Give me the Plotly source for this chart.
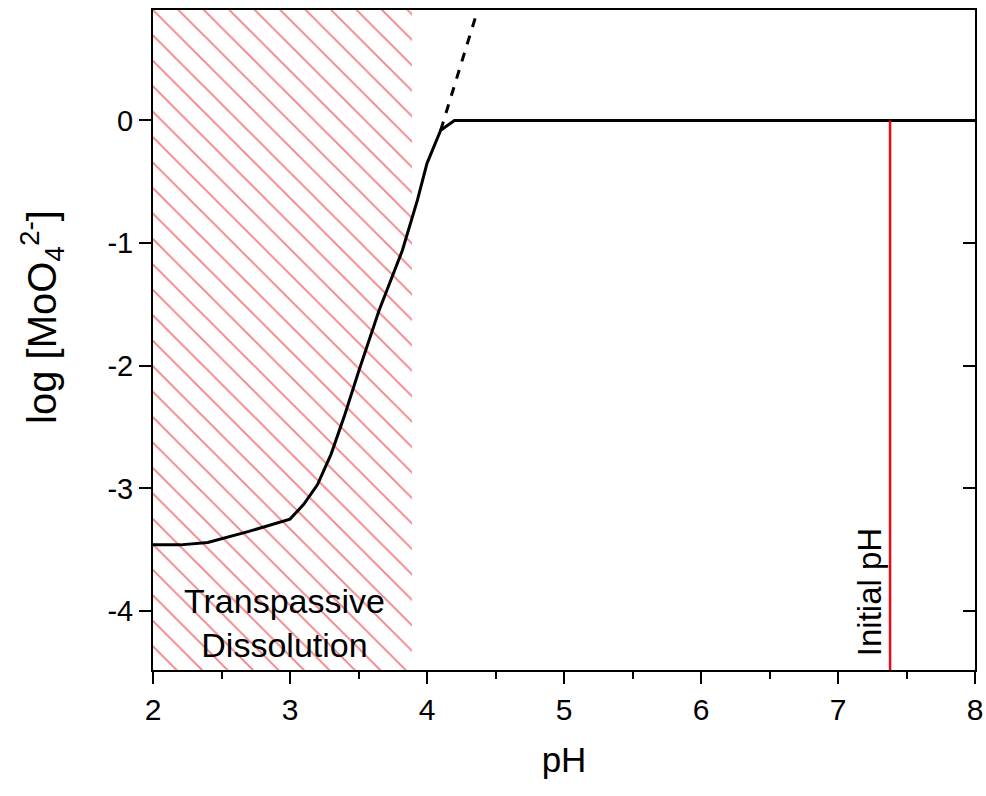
import plotly.graph_objects as go

# Data
ph_curve = [2.0, 2.2, 2.4, 2.7, 3.0, 3.1, 3.2, 3.3, 3.4, 3.5, 3.65, 3.82, 3.93, 4.0, 4.1, 4.2, 8.0]
log_moo4 = [-3.46, -3.46, -3.44, -3.35, -3.25, -3.13, -2.97, -2.72, -2.40, -2.05, -1.55, -1.06, -0.65, -0.35, -0.08, 0.0, 0.0]
ph_dashed = [4.1, 4.37]
log_dashed = [-0.08, 0.9]
region_x = [2.0, 3.89, 3.89, 2.0, 2.0]
region_y = [-4.5, -4.5, 0.9, 0.9, -4.5]
initial_ph = 7.38
initial_line_y = [-4.5, 0.0]
x_ticks = [2, 3, 4, 5, 6, 7, 8]
x_ticklabels = ["2", "3", "4", "5", "6", "7", "8"]
x_minor = [2.5, 3.5, 4.5, 5.5, 6.5, 7.5]
y_ticks = [-4, -3, -2, -1, 0]
y_ticklabels = ["-4", "-3", "-2", "-1", "0"]

FONT = "Arial, Liberation Sans, sans-serif"
Y_RANGE = [-4.48, 0.9]

fig = go.Figure()
fig.add_trace(go.Scatter(
    x=region_x, y=region_y, mode="lines", fill="toself",
    line=dict(width=0), fillcolor="rgba(0,0,0,0)",
    fillpattern=dict(shape="\\", fgcolor="#e8000b", bgcolor="white", size=18, solidity=0.1),
    hoverinfo="skip", showlegend=False))
fig.add_trace(go.Scatter(x=ph_curve, y=log_moo4, mode="lines",
                         line=dict(color="black", width=3), showlegend=False))
fig.add_trace(go.Scatter(x=ph_dashed, y=log_dashed, mode="lines",
                         line=dict(color="black", width=3, dash="dash"), showlegend=False))
fig.add_trace(go.Scatter(x=[initial_ph, initial_ph], y=initial_line_y, mode="lines",
                         line=dict(color="#ee0a14", width=2.5), showlegend=False))
# invisible trace for right axis
fig.add_trace(go.Scatter(x=[2], y=[0], yaxis="y2", mode="markers",
                         marker=dict(opacity=0), showlegend=False, hoverinfo="skip"))

fig.add_annotation(x=2.96, y=-4.10, text="Transpassive<br>Dissolution", showarrow=False,
                   font=dict(family=FONT, size=34, color="black"), align="center")
fig.add_annotation(x=7.23, y=-3.85, text="Initial pH", showarrow=False, textangle=-90,
                   font=dict(family=FONT, size=33, color="black"), xanchor="center", yanchor="middle")
# y-axis title
fig.add_annotation(xref="paper", yref="paper", x=-0.135, y=0.535,
                   text="log [MoO<sub>4</sub><sup>2-</sup>]", showarrow=False, textangle=-90,
                   font=dict(family=FONT, size=40, color="black"), xanchor="center", yanchor="middle")

fig.update_layout(
    width=986, height=796,
    margin=dict(l=153, r=11, t=10, b=126),
    plot_bgcolor="white", paper_bgcolor="white",
    font=dict(family=FONT, size=29, color="black"),
    xaxis=dict(range=[2, 8], tickvals=x_ticks, ticktext=x_ticklabels, showgrid=False, zeroline=False,
               showline=True, linecolor="black", linewidth=2, mirror=True, automargin=False,
               ticklabeloverflow="allow",
               ticks="outside", ticklen=12, tickwidth=2, tickcolor="black",
               minor=dict(tickvals=x_minor, ticks="outside", ticklen=7,
                          tickwidth=2, tickcolor="black"),
               tickfont=dict(size=30),
               title=dict(text="pH", font=dict(size=35), standoff=22)),
    yaxis=dict(range=Y_RANGE, tickvals=y_ticks, ticktext=y_ticklabels, showgrid=False, zeroline=False,
               showline=True, linecolor="black", linewidth=2, mirror=True, automargin=False,
               ticks="outside", ticklen=12, tickwidth=2, tickcolor="black",
               tickfont=dict(size=29)),
    yaxis2=dict(range=Y_RANGE, tickvals=y_ticks, overlaying="y", side="right", automargin=False,
                showgrid=False, zeroline=False, showline=False, showticklabels=False,
                ticks="inside", ticklen=12, tickwidth=2, tickcolor="black"),
)

fig.write_html("out.html", config={"displayModeBar": False},
               post_script="document.body.style.margin='0';document.body.style.overflow='hidden';")
